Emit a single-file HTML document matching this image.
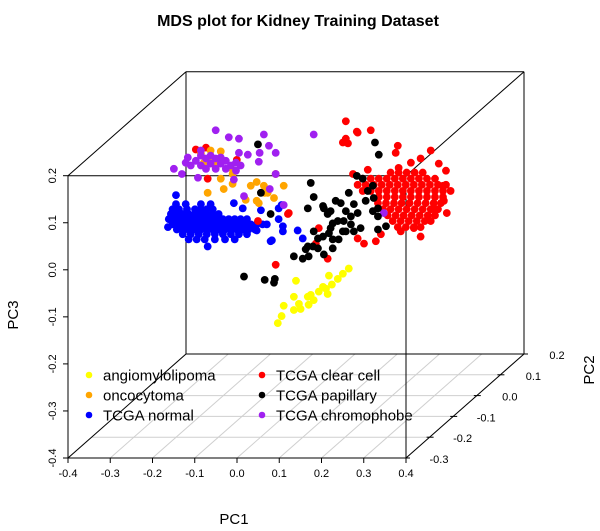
<!DOCTYPE html>
<html>
<head>
<meta charset="utf-8">
<style>
html,body{margin:0;padding:0;background:#fff;}
svg{display:block;font-family:"Liberation Sans",Arial,sans-serif;}
</style>
</head>
<body>
<svg id="chart" width="600" height="531" viewBox="0 0 600 531" xmlns="http://www.w3.org/2000/svg">
  <text x="298" y="26" text-anchor="middle" font-size="16" font-weight="bold">MDS plot for Kidney Training Dataset</text>
  <g id="floor-grid"></g>
  <g id="box"></g>
  <g id="axes"></g>
  <g id="points"></g>
  <text x="234" y="524" text-anchor="middle" font-size="15">PC1</text>
  <text transform="translate(18,315) rotate(-90)" text-anchor="middle" font-size="15">PC3</text>
  <text transform="translate(594,370) rotate(-90)" text-anchor="middle" font-size="15">PC2</text>
  <g id="legend"></g>
</svg>
<script>
// ---- data (PC2 defaults to 0 for all samples) ----
const xTicks = [-0.4,-0.3,-0.2,-0.1,0.0,0.1,0.2,0.3,0.4];
const xTickLabels = ["-0.4","-0.3","-0.2","-0.1","0.0","0.1","0.2","0.3","0.4"];
const yTicks = [-0.3,-0.2,-0.1,0.0,0.1,0.2];
const yTickLabels = ["-0.3","-0.2","-0.1","0.0","0.1","0.2"];
const zTicks = [-0.4,-0.3,-0.2,-0.1,0.0,0.1,0.2];
const zTickLabels = ["-0.4","-0.3","-0.2","-0.1","0.0","0.1","0.2"];
const legendLabels = ["angiomylolipoma","oncocytoma","TCGA normal","TCGA clear cell","TCGA papillary","TCGA chromophobe"];

const blueX = [-0.312,-0.331,-0.237,-0.085,-0.069,-0.062,-0.024,-0.012,-0.111,-0.069,-0.059,-0.097,-0.121,-0.059,-0.088,-0.154,-0.175,
 -0.312,-0.289,-0.253,-0.230,
 -0.320,-0.305,-0.286,-0.267,-0.253,-0.239,-0.225,
 -0.324,-0.310,-0.296,-0.282,-0.267,-0.253,-0.239,-0.225,-0.211,
 -0.329,-0.315,-0.301,-0.286,-0.272,-0.258,-0.244,-0.230,-0.215,-0.201,-0.187,-0.173,-0.159,-0.144,
 -0.320,-0.305,-0.291,-0.277,-0.263,-0.249,-0.234,-0.220,-0.206,-0.192,-0.178,-0.163,-0.149,-0.135,-0.121,-0.107,
 -0.310,-0.296,-0.282,-0.267,-0.253,-0.239,-0.225,-0.211,-0.196,-0.182,-0.168,-0.154,-0.140,-0.125,
 -0.296,-0.277,-0.258,-0.239,-0.220,-0.201,-0.182,-0.163,-0.144,
 -0.282,-0.263,-0.244,-0.220,-0.196,-0.173];
const blueZ = [0.026,-0.042,-0.083,-0.070,-0.002,0.005,-0.049,-0.066,-0.006,-0.025,-0.040,-0.036,-0.049,-0.051,-0.072,-0.002,0.009,
 0.007,0.007,0.007,0.007,
 -0.004,-0.004,-0.004,-0.004,-0.004,-0.004,-0.004,
 -0.014,-0.014,-0.014,-0.014,-0.014,-0.014,-0.014,-0.014,-0.014,
 -0.025,-0.025,-0.025,-0.025,-0.025,-0.025,-0.025,-0.025,-0.025,-0.025,-0.025,-0.025,-0.025,-0.025,
 -0.036,-0.036,-0.036,-0.036,-0.036,-0.036,-0.036,-0.036,-0.036,-0.036,-0.036,-0.036,-0.036,-0.036,-0.036,-0.036,
 -0.047,-0.047,-0.047,-0.047,-0.047,-0.047,-0.047,-0.047,-0.047,-0.047,-0.047,-0.047,-0.047,-0.047,
 -0.057,-0.057,-0.057,-0.057,-0.057,-0.057,-0.057,-0.057,-0.057,
 -0.068,-0.068,-0.068,-0.068,-0.068,-0.068];

const redX = [0.090,0.118,0.149,0.083,0.095,0.213,0.244,0.267,0.310,0.215,0.142,0.107,0.320,0.322,0.303,0.251,0.173,0.133,0.118,0.026,0.019,0.047,-0.076,-0.045,-0.118,-0.076,-0.241,-0.265,-0.168,-0.237,-0.047,0.090,0.116,0.208,0.291,0.327,0.338,0.329,0.267,0.220,0.161,
 0.196,0.215,0.234,0.253,0.272,
 0.130,0.149,0.168,0.187,0.206,0.225,0.244,0.263,0.282,0.301,
 0.118,0.137,0.156,0.175,0.194,0.213,0.232,0.251,0.270,0.289,0.308,0.327,
 0.130,0.149,0.168,0.187,0.206,0.225,0.244,0.263,0.282,0.301,0.320,
 0.168,0.187,0.206,0.225,0.244,0.263,0.282,0.301,0.320,
 0.166,0.185,0.204,0.222,0.241,0.260,0.279,0.298,0.315,
 0.178,0.196,0.215,0.234,0.253,0.272,0.291,0.308,
 0.189,0.208,0.227,0.246,0.265,0.284,0.301,
 0.201,0.220,0.239,0.258,0.277,0.291,
 0.213,0.232,0.251,0.267];
const redZ = [0.146,0.159,0.164,0.138,0.136,0.131,0.095,0.104,0.093,0.084,0.080,0.071,0.046,0.014,-0.004,-0.044,-0.057,-0.077,-0.066,-0.044,-0.077,-0.109,-0.122,-0.012,-0.029,0.071,0.127,0.123,0.101,0.061,-0.014,0.183,0.161,0.116,0.121,0.078,0.035,-0.012,-0.062,-0.051,-0.072,
 0.074,0.074,0.074,0.074,0.074,
 0.061,0.061,0.061,0.061,0.061,0.061,0.061,0.061,0.061,0.061,
 0.048,0.048,0.048,0.048,0.048,0.048,0.048,0.048,0.048,0.048,0.048,0.048,
 0.035,0.035,0.035,0.035,0.035,0.035,0.035,0.035,0.035,0.035,0.035,
 0.022,0.022,0.022,0.022,0.022,0.022,0.022,0.022,0.022,
 0.009,0.009,0.009,0.009,0.009,0.009,0.009,0.009,0.009,
 -0.004,-0.004,-0.004,-0.004,-0.004,-0.004,-0.004,-0.004,
 -0.017,-0.017,-0.017,-0.017,-0.017,-0.017,-0.017,
 -0.029,-0.029,-0.029,-0.029,-0.029,-0.029,
 -0.042,-0.042,-0.042,-0.042];

const orangeX = [-0.253,-0.230,-0.206,-0.246,-0.206,-0.199,-0.178,-0.237,-0.121,-0.135,-0.104,-0.095,-0.080,-0.057,-0.116,-0.147,-0.182,-0.218,-0.178,-0.121,-0.102,-0.225];
const orangeZ = [0.114,0.121,0.119,0.095,0.061,0.039,0.050,0.031,0.054,0.046,0.046,0.031,0.020,0.046,0.009,0.016,0.084,0.089,0.071,0.014,0.031,0.104];

const purpleX = [-0.218,-0.187,-0.163,-0.104,-0.092,-0.076,-0.114,-0.116,-0.317,-0.298,-0.284,-0.253,-0.163,-0.142,-0.260,-0.175,-0.151,-0.090,-0.076,-0.057,0.014,0.180,
 -0.265,-0.253,-0.241,-0.230,-0.218,-0.206,-0.194,-0.182,-0.170,-0.241,-0.218,-0.194,-0.170,-0.159,-0.277,-0.253,-0.289,-0.230,-0.206];
const purpleZ = [0.164,0.149,0.146,0.155,0.131,0.116,0.116,0.097,0.082,0.071,0.106,0.121,0.116,0.112,0.063,0.059,0.024,0.039,0.071,0.005,0.155,-0.012,
 0.099,0.089,0.104,0.093,0.104,0.093,0.099,0.089,0.095,0.082,0.082,0.082,0.078,0.089,0.089,0.110,0.095,0.110,0.106];

const blackX = [-0.118,-0.111,-0.088,-0.151,-0.102,-0.078,-0.080,0.007,0.014,0.000,-0.033,-0.012,0.002,0.000,0.024,0.038,0.014,0.036,0.066,0.038,0.047,0.071,0.083,0.059,0.024,0.159,0.168,0.116,0.036,0.054,0.078,0.097,0.142,0.154,0.156,0.137,0.109,0.118,0.102,0.085,0.102,0.125,0.109,0.090,0.073,0.059,0.012,-0.005,0.059,0.054,0.166,0.185,0.166,0.166,0.154,0.130,0.090,0.050];
const blackZ = [0.134,0.031,-0.014,-0.147,-0.154,-0.152,-0.160,0.052,0.022,-0.002,-0.104,-0.109,-0.104,-0.083,-0.087,-0.100,-0.051,-0.062,0.014,-0.002,-0.014,-0.029,-0.051,-0.068,-0.066,0.138,0.112,0.067,0.003,-0.008,0.009,0.031,0.035,0.046,0.020,0.014,0.007,-0.012,-0.019,-0.029,-0.036,-0.044,-0.051,-0.051,-0.068,-0.087,-0.083,-0.089,-0.034,-0.044,-0.047,-0.040,-0.019,-0.002,-0.008,0.061,-0.008,-0.055];

const yellowX = [0.097,0.050,0.071,-0.028,0.036,0.043,0.047,0.007,0.014,0.002,-0.033,-0.021,-0.033,-0.057,-0.017,-0.062,-0.071,0.000,0.026,0.057,0.083];
const yellowZ = [-0.130,-0.145,-0.152,-0.156,-0.169,-0.173,-0.184,-0.186,-0.197,-0.207,-0.190,-0.205,-0.218,-0.209,-0.216,-0.231,-0.246,-0.190,-0.179,-0.164,-0.141];

// ---- projection ----
const NS = "http://www.w3.org/2000/svg";
const FX0 = 68, FX1 = 406, FYB = 458, FYT = 175.7, DX = 118, DY = 104;
function fy(y){ return (y + 0.3) / 0.5; }
function px(x, y){ return FX0 + (x + 0.4) / 0.8 * (FX1 - FX0) + fy(y) * DX; }
function py(z, y){ return FYB - (z + 0.4) / 0.6 * (FYB - FYT) - fy(y) * DY; }

function mk(tag, attrs, parent){
  const e = document.createElementNS(NS, tag);
  for (const k in attrs) e.setAttribute(k, attrs[k]);
  parent.appendChild(e);
  return e;
}
const grid = document.getElementById('floor-grid');
const box = document.getElementById('box');
const axes = document.getElementById('axes');
const pts = document.getElementById('points');
const legend = document.getElementById('legend');

// floor grid
xTicks.forEach(function(t){
  const l = mk('line', {x1:px(t,-0.3), y1:py(-0.4,-0.3), x2:px(t,0.2), y2:py(-0.4,0.2), stroke:'#cfcfcf', 'stroke-width':1}, grid);
  
  
});
yTicks.forEach(function(t){
  const l = mk('line', {x1:px(-0.4,t), y1:py(-0.4,t), x2:px(0.4,t), y2:py(-0.4,t), stroke:'#cfcfcf', 'stroke-width':1}, grid);
  
  
});

// box edges
const edges = [
  [-0.4,-0.3,0.2, 0.4,-0.3,0.2], [-0.4,-0.3,0.2, -0.4,-0.3,-0.4], [0.4,-0.3,0.2, 0.4,-0.3,-0.4],
  [-0.4,0.2,0.2, 0.4,0.2,0.2], [-0.4,0.2,0.2, -0.4,0.2,-0.4], [0.4,0.2,0.2, 0.4,0.2,-0.4], [-0.4,0.2,-0.4, 0.4,0.2,-0.4],
  [-0.4,-0.3,0.2, -0.4,0.2,0.2], [0.4,-0.3,0.2, 0.4,0.2,0.2], [-0.4,-0.3,-0.4, -0.4,0.2,-0.4], [0.4,-0.3,-0.4, 0.4,0.2,-0.4],
  [-0.4,-0.3,-0.4, 0.4,-0.3,-0.4]
];
edges.forEach(function(e){
  const l = mk('line', {x1:px(e[0],e[1]), y1:py(e[2],e[1]), x2:px(e[3],e[4]), y2:py(e[5],e[4]), stroke:'#000', 'stroke-width':1}, box);
  
  
});

// x axis ticks
xTicks.forEach(function(t, i){
  const X = px(t,-0.3), Y = py(-0.4,-0.3);
  const tk = mk('line', {x1:X, y1:Y, x2:X, y2:Y+5, stroke:'#000'}, axes);
  
  
  const tx = mk('text', {x:X, y:Y+19, 'text-anchor':'middle', 'font-size':11}, axes);
  tx.textContent = xTickLabels[i];
  
  
});
// z axis ticks
zTicks.forEach(function(t, i){
  const X = px(-0.4,-0.3), Y = py(t,-0.3);
  const tk = mk('line', {x1:X-5, y1:Y, x2:X, y2:Y, stroke:'#000'}, axes);
  
  
  const tx = mk('text', {transform:'translate(' + (X-12) + ',' + Y + ') rotate(-90)', 'text-anchor':'middle', 'font-size':11}, axes);
  tx.textContent = zTickLabels[i];
  
  
});
// y axis ticks (right diagonal)
yTicks.forEach(function(t, i){
  const X = px(0.4,t), Y = py(-0.4,t);
  const tk = mk('line', {x1:X-3, y1:Y, x2:X+4, y2:Y, stroke:'#000'}, axes);
  
  
  const tx = mk('text', {x:X+33, y:Y+5, 'text-anchor':'middle', 'font-size':11}, axes);
  tx.textContent = yTickLabels[i];
  
  
});

// points
function drawGroup(xs, zs, color, name){
  for (let i = 0; i < xs.length; i++){
    const c = mk('circle', {cx:px(xs[i],0), cy:py(zs[i],0), r:3.9, fill:color}, pts);
    
    
  }
}
drawGroup(blueX, blueZ, '#0000FF', 'point-tcga-normal');
drawGroup(redX, redZ, '#FF0000', 'point-tcga-clear-cell');
drawGroup(orangeX, orangeZ, '#FFA500', 'point-oncocytoma');
drawGroup(purpleX, purpleZ, '#A020F0', 'point-tcga-chromophobe');
drawGroup(blackX, blackZ, '#000000', 'point-tcga-papillary');
drawGroup(yellowX, yellowZ, '#FFFF00', 'point-angiomyolipoma');

// legend
const legendColors = ['#FFFF00','#FFA500','#0000FF','#FF0000','#000000','#A020F0'];
legendLabels.forEach(function(lab, i){
  const col = Math.floor(i / 3), row = i % 3;
  const sx = col === 0 ? 89 : 262, sy = 375 + row * 20;
  const c = mk('circle', {cx:sx, cy:sy, r:3.3, fill:legendColors[i]}, legend);
  
  
  const t = mk('text', {x:sx+14, y:sy+5.5, 'font-size':15}, legend);
  t.textContent = lab;
  
  
});
</script>
</body>
</html>
